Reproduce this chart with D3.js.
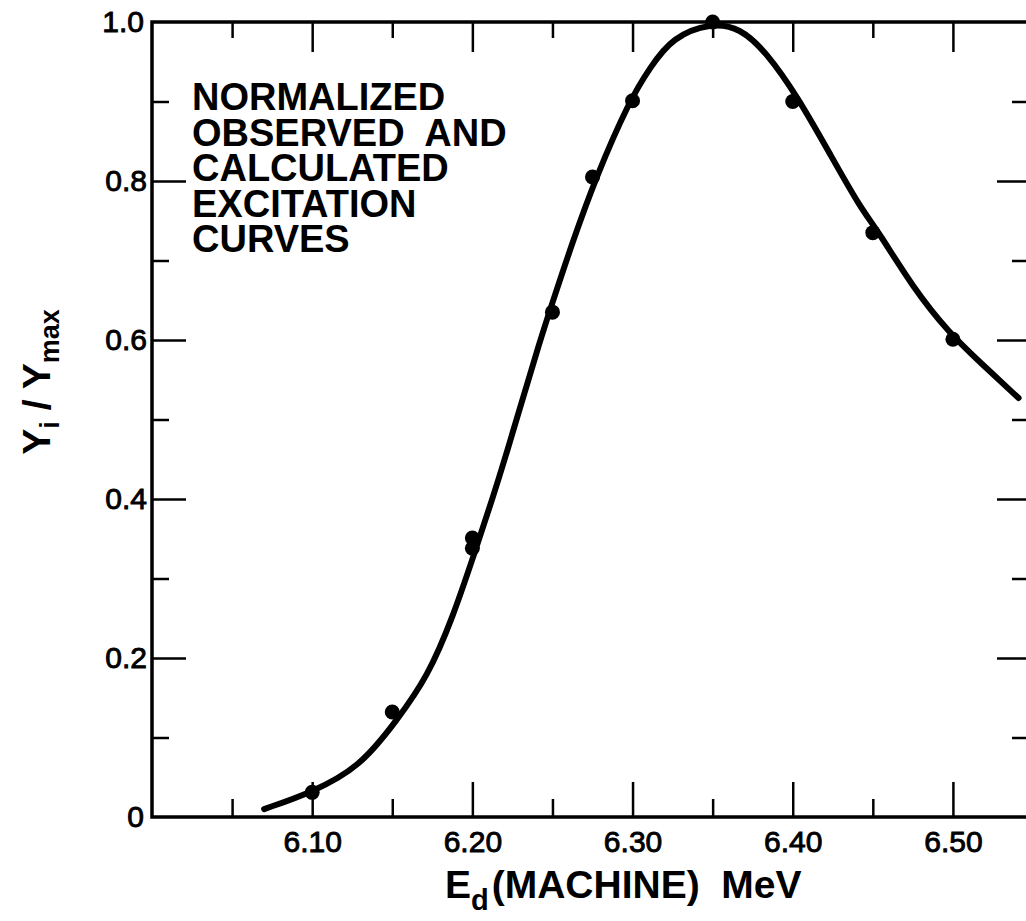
<!DOCTYPE html>
<html>
<head>
<meta charset="utf-8">
<script src="https://cdn.jsdelivr.net/npm/d3@7"></script>
<style>
  body { margin: 0; background: #fff; }
  svg { display: block; background: #fff; }
  text { font-family: "Liberation Sans", Arial, sans-serif; fill: #000; }
  .tick text { font-size: 30px; stroke: #000; stroke-width: 0.9px; }
  .label { font-size: 39px; font-weight: bold; }
  .note { font-size: 38px; font-weight: bold; }
</style>
</head>
<body>
<svg width="1026" height="921"></svg>
<script>
// observed points
const obsE = [6.10, 6.15, 6.20, 6.20, 6.25, 6.275, 6.30, 6.35, 6.40, 6.45, 6.50];
const obsY = [0.031, 0.132, 0.351, 0.338, 0.635, 0.805, 0.901, 1.0, 0.90, 0.735, 0.601];

// calculated excitation curve
const calcE = [6.07, 6.10, 6.13, 6.153, 6.172, 6.188, 6.202, 6.213, 6.222, 6.232, 6.242, 6.248,
  6.263, 6.277, 6.298, 6.311, 6.325, 6.349, 6.367, 6.384, 6.403, 6.423, 6.442, 6.453,
  6.475, 6.498, 6.517, 6.541];
const calcY = [0.010, 0.031, 0.063, 0.122, 0.176, 0.252, 0.336, 0.403, 0.462, 0.53, 0.597, 0.635,
  0.726, 0.804, 0.901, 0.943, 0.981, 0.999, 0.993, 0.961, 0.906, 0.835, 0.767, 0.738,
  0.666, 0.608, 0.572, 0.527];

// ticks
const xMajor = [6.10, 6.20, 6.30, 6.40, 6.50];
const xMajorLabels = ['6.10', '6.20', '6.30', '6.40', '6.50'];
const xMinor = [6.05, 6.15, 6.25, 6.35, 6.45];
const yMajor = [0, 0.2, 0.4, 0.6, 0.8, 1.0];
const yMajorLabels = ['0', '0.2', '0.4', '0.6', '0.8', '1.0'];
const yMinor = [0.1, 0.3, 0.5, 0.7, 0.9];

const noteLines = ['NORMALIZED', 'OBSERVED  AND', 'CALCULATED', 'EXCITATION', 'CURVES'];

const svg = d3.select('svg');
const margin = { top: 22, left: 152 };
const innerWidth = 881;
const innerHeight = 795;

const xScale = d3.scaleLinear().domain([6.00, 6.55]).range([0, innerWidth]);
const yScale = d3.scaleLinear().domain([0, 1]).range([innerHeight, 0]);

const g = svg.append('g')
  .attr('transform', `translate(${margin.left},${margin.top})`);

// inward ticks on all four sides
const fmtX = d => xMajorLabels[xMajor.indexOf(d)];
const fmtY = d => yMajorLabels[yMajor.indexOf(d)];

g.append('g').attr('transform', `translate(0,${innerHeight})`)
  .call(d3.axisBottom(xScale).tickValues(xMajor).tickSize(-35).tickPadding(14).tickFormat(fmtX));
g.append('g').attr('transform', `translate(0,${innerHeight})`)
  .call(d3.axisBottom(xScale).tickValues(xMinor).tickSize(-18).tickFormat(''));
g.append('g')
  .call(d3.axisTop(xScale).tickValues(xMajor).tickSize(-30).tickFormat(''));
g.append('g')
  .call(d3.axisTop(xScale).tickValues(xMinor).tickSize(-16).tickFormat(''));
g.append('g')
  .call(d3.axisLeft(yScale).tickValues(yMajor.slice(1, 5)).tickSize(-34).tickPadding(5).tickFormat(fmtY));
g.append('g')
  .call(d3.axisLeft(yScale).tickValues([0, 1]).tickSize(0).tickPadding(8).tickFormat(fmtY));
g.append('g')
  .call(d3.axisLeft(yScale).tickValues(yMinor).tickSize(-17).tickFormat(''));
g.append('g').attr('transform', `translate(${innerWidth},0)`)
  .call(d3.axisRight(yScale).tickValues(yMajor.slice(1, 5)).tickSize(-36).tickFormat(''));
g.append('g').attr('transform', `translate(${innerWidth},0)`)
  .call(d3.axisRight(yScale).tickValues(yMinor).tickSize(-21).tickFormat(''));

g.selectAll('.domain').remove();
g.selectAll('.tick text').filter(function () { return this.textContent === ''; }).remove();
g.selectAll('.tick line').attr('stroke', '#000').attr('stroke-width', 2.5);

// frame
g.append('rect')
  .attr('x', 0).attr('y', 0)
  .attr('width', innerWidth).attr('height', innerHeight)
  .attr('fill', 'none').attr('stroke', '#000').attr('stroke-width', 3.5);

// calculated curve
const line = d3.line()
  .x((d, i) => xScale(calcE[i]))
  .y(d => yScale(d))
  .curve(d3.curveBasis);

g.append('path')
  .datum(calcY)
  .attr('d', line)
  .attr('fill', 'none')
  .attr('stroke', '#000')
  .attr('stroke-width', 6)
  .attr('stroke-linecap', 'round');

// observed points
g.selectAll('circle').data(obsY)
  .enter().append('circle')
    .attr('cx', (d, i) => xScale(obsE[i]))
    .attr('cy', d => yScale(d))
    .attr('r', 7.5)
    .attr('fill', '#000');

// note in upper left
noteLines.forEach((t, i) => {
  svg.append('text').attr('class', 'note')
    .attr('x', 192)
    .attr('y', 110 + i * 35.5)
    .attr('xml:space', 'preserve')
    .text(t);
});

// x axis label
const xl = svg.append('text').attr('class', 'label')
  .attr('x', 445).attr('y', 898)
  .attr('xml:space', 'preserve');
xl.append('tspan').text('E');
xl.append('tspan').attr('dy', 12).attr('font-size', 29).text('d');
xl.append('tspan').attr('dy', -12).attr('dx', 3).text('(MACHINE)  MeV');

// y axis label
const yl = svg.append('text').attr('class', 'label')
  .attr('transform', 'translate(50,382) rotate(-90)')
  .attr('text-anchor', 'middle')
  .attr('xml:space', 'preserve')
  .attr('font-size', 41);
yl.append('tspan').text('Y');
yl.append('tspan').attr('dy', 9).attr('font-size', 27).text('i');
yl.append('tspan').attr('dy', -9).text(' / Y');
yl.append('tspan').attr('dy', 9).attr('font-size', 27).text('max');
</script>
</body>
</html>
